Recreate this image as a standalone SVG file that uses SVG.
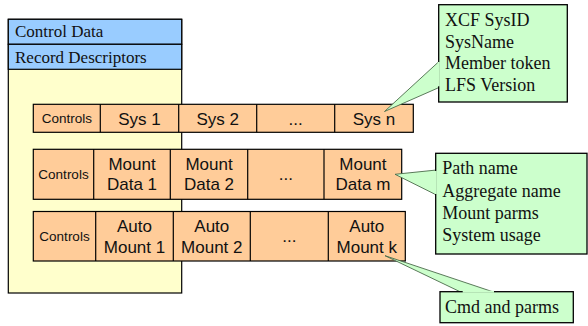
<svg xmlns="http://www.w3.org/2000/svg" width="588" height="326" viewBox="0 0 588 326">
<style>
.cell{fill:#FFCC99;stroke:#000;stroke-width:1.2}
.div{stroke:#000;stroke-width:1.2}
.sans{font-family:"Liberation Sans",Arial,sans-serif;font-size:17px;fill:#111;text-anchor:middle}
.ctl{font-family:"Liberation Sans",Arial,sans-serif;font-size:13.5px;fill:#111;text-anchor:middle}
.serif{font-family:"Liberation Serif","Times New Roman",serif;font-size:17px;fill:#111}
.note{font-family:"Liberation Serif","Times New Roman",serif;font-size:18px;fill:#111}
.gbox{fill:#CCFFCC;stroke:#000;stroke-width:1.3}
.tail{fill:#CCFFCC;stroke:#4a6a4a;stroke-width:0.9}
.cover{stroke:#CCFFCC;stroke-width:2}
</style>
<rect width="588" height="326" fill="#fff"/>
<g id="dataset">
<rect x="8.3" y="19.3" width="173.4" height="273.7" fill="#FFFFCC" stroke="#000" stroke-width="1.2"/>
<rect x="8.3" y="19.3" width="173.4" height="25" fill="#99CCFF" stroke="#000" stroke-width="1.2"/>
<rect x="8.3" y="44.3" width="173.4" height="25" fill="#99CCFF" stroke="#000" stroke-width="1.2"/>
<text class="serif" x="15" y="36.7">Control Data</text>
<text class="serif" x="15" y="62.5">Record Descriptors</text>
</g>
<g id="sys-row">
<rect class="cell" x="33.3" y="104.3" width="380" height="28"/>
<line class="div" x1="100.3" y1="104.3" x2="100.3" y2="132.3"/>
<line class="div" x1="178.7" y1="104.3" x2="178.7" y2="132.3"/>
<line class="div" x1="256.7" y1="104.3" x2="256.7" y2="132.3"/>
<line class="div" x1="334.7" y1="104.3" x2="334.7" y2="132.3"/>
<text class="ctl" x="66.8" y="123.3">Controls</text>
<text class="sans" x="139.5" y="125">Sys 1</text>
<text class="sans" x="217.7" y="125">Sys 2</text>
<text class="sans" x="295.7" y="125">...</text>
<text class="sans" x="374" y="125">Sys n</text>
</g>
<g id="mount-row">
<rect class="cell" x="33.3" y="149.3" width="368.4" height="50"/>
<line class="div" x1="93.7" y1="149.3" x2="93.7" y2="199.3"/>
<line class="div" x1="170.3" y1="149.3" x2="170.3" y2="199.3"/>
<line class="div" x1="247.7" y1="149.3" x2="247.7" y2="199.3"/>
<line class="div" x1="324" y1="149.3" x2="324" y2="199.3"/>
<text class="ctl" x="63.5" y="179.3">Controls</text>
<text class="sans" x="132" y="170">Mount</text>
<text class="sans" x="132" y="190">Data 1</text>
<text class="sans" x="209" y="170">Mount</text>
<text class="sans" x="209" y="190">Data 2</text>
<text class="sans" x="285.9" y="180">...</text>
<text class="sans" x="362.9" y="170">Mount</text>
<text class="sans" x="362.9" y="190">Data m</text>
</g>
<g id="automount-row">
<rect class="cell" x="33.3" y="211.5" width="372" height="49.5"/>
<line class="div" x1="95.7" y1="211.5" x2="95.7" y2="261"/>
<line class="div" x1="173.3" y1="211.5" x2="173.3" y2="261"/>
<line class="div" x1="250.3" y1="211.5" x2="250.3" y2="261"/>
<line class="div" x1="328.3" y1="211.5" x2="328.3" y2="261"/>
<text class="ctl" x="64.5" y="240.7">Controls</text>
<text class="sans" x="134.5" y="231.7">Auto</text>
<text class="sans" x="134.5" y="252.5">Mount 1</text>
<text class="sans" x="211.8" y="231.7">Auto</text>
<text class="sans" x="211.8" y="252.5">Mount 2</text>
<text class="sans" x="289.3" y="242">...</text>
<text class="sans" x="366.8" y="231.7">Auto</text>
<text class="sans" x="366.8" y="252.5">Mount k</text>
</g>
<g id="connectors">
<polygon class="tail" points="384.5,111.5 439.5,61 439.5,87.3"/>
<polygon class="tail" points="395,174.3 436.5,170 436.5,195"/>
<polygon class="tail" points="385,255.7 461.7,292.5 495,292.5"/>
</g>
<g id="note-sys">
<rect class="gbox" x="438.7" y="4.7" width="128.6" height="97.3"/>
<line class="cover" x1="438.7" y1="62" x2="438.7" y2="86.3"/>
<text class="note" x="445" y="26">XCF SysID</text>
<text class="note" x="445" y="47.5">SysName</text>
<text class="note" x="445" y="69">Member token</text>
<text class="note" x="445" y="90.7">LFS Version</text>
</g>
<g id="note-mount">
<rect class="gbox" x="435.7" y="153.3" width="151.3" height="100.7"/>
<line class="cover" x1="435.7" y1="171" x2="435.7" y2="194"/>
<text class="note" x="442.3" y="174">Path name</text>
<text class="note" x="442.3" y="196.5">Aggregate name</text>
<text class="note" x="442.3" y="218.7">Mount parms</text>
<text class="note" x="442.3" y="240.7">System usage</text>
</g>
<g id="note-auto">
<rect class="gbox" x="440" y="291.7" width="133.3" height="31"/>
<line class="cover" x1="462.7" y1="291.7" x2="494" y2="291.7"/>
<text class="note" x="445" y="313.3">Cmd and parms</text>
</g>
</svg>
